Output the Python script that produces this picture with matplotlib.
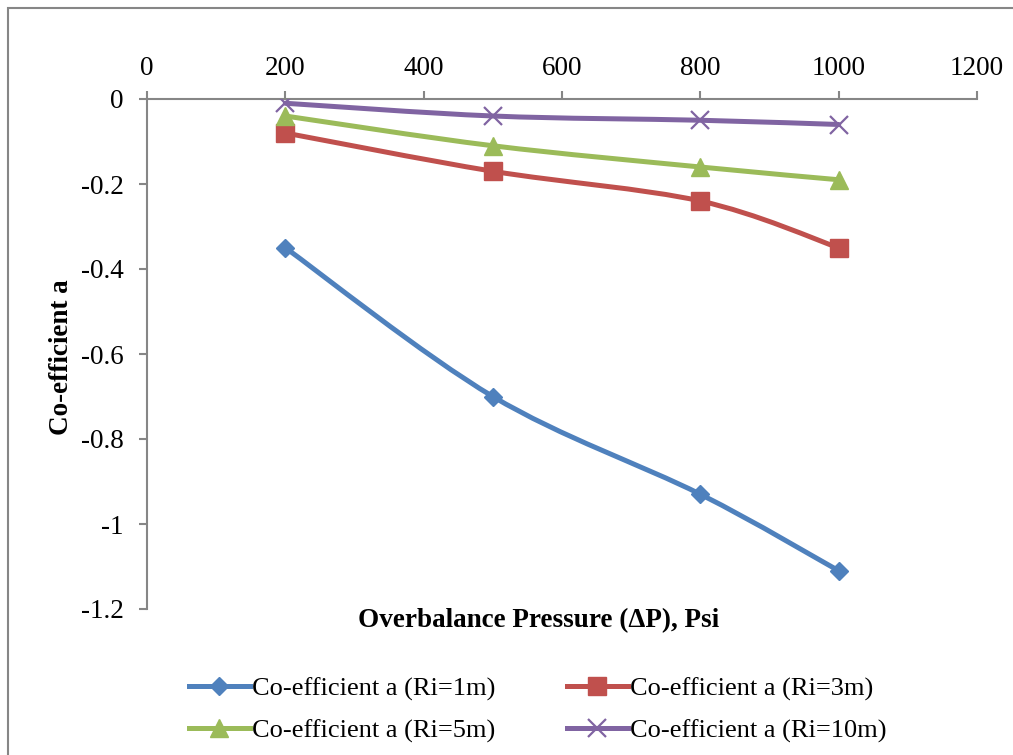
import matplotlib
matplotlib.use("Agg")
import matplotlib.pyplot as plt
import numpy as np
from matplotlib.path import Path
from matplotlib.patches import PathPatch, Rectangle
from matplotlib.lines import Line2D

plt.rcParams['font.family'] = ['Liberation Serif', 'DejaVu Serif']

# overbalance pressure (psi) and coefficient a for each radius
pressure = [200, 500, 800, 1000]
coef_r1 = [-0.35, -0.70, -0.93, -1.11]
coef_r3 = [-0.08, -0.17, -0.24, -0.35]
coef_r5 = [-0.04, -0.11, -0.16, -0.19]
coef_r10 = [-0.01, -0.04, -0.05, -0.06]
labels = ["Co-efficient a (Ri=1m)", "Co-efficient a (Ri=3m)",
          "Co-efficient a (Ri=5m)", "Co-efficient a (Ri=10m)"]
x_ticks = [0, 200, 400, 600, 800, 1000, 1200]
y_ticks = [0, -0.2, -0.4, -0.6, -0.8, -1, -1.2]

colors = ['#4F81BD', '#C0504D', '#9BBB59', '#8064A2']
markers = ['D', 's', '^', 'x']
msizes = [9.5, 13, 13, 13]


def smooth_path(xs, ys):
    # excel-like smoothed line: catmull-rom segments as cubic beziers
    p = np.column_stack([xs, ys]).astype(float)
    n = len(p)
    verts = [p[0]]
    codes = [Path.MOVETO]
    for i in range(n - 1):
        p0 = p[i - 1] if i > 0 else p[i]
        p3 = p[i + 2] if i + 2 < n else p[i + 1]
        c1 = p[i] + (p[i + 1] - p0) / 6.0
        c2 = p[i + 1] - (p3 - p[i]) / 6.0
        verts += [c1, c2, p[i + 1]]
        codes += [Path.CURVE4] * 3
    return Path(verts, codes)


fig = plt.figure(figsize=(10.13, 7.55), dpi=100)
# outer chart frame
fig.patches.append(Rectangle((8 / 1013, -0.1), 1.2, 1 - 8 / 755 + 0.1,
                             transform=fig.transFigure, fill=False,
                             edgecolor='#868686', linewidth=1.5))

ax = fig.add_axes([147 / 1013, 1 - 609 / 755, 830 / 1013, 510 / 755])

series = [coef_r1, coef_r3, coef_r5, coef_r10]
handles = []
for ys, c, m, ms, lab in zip(series, colors, markers, msizes, labels):
    ax.add_patch(PathPatch(smooth_path(pressure, ys), fill=False,
                           edgecolor=c, linewidth=3.6, zorder=2,
                           capstyle='round', joinstyle='round'))
    mew = 1.6 if m == 'x' else 1
    ax.plot(pressure, ys, linestyle='none', marker=m, markersize=ms,
            color=c, markeredgecolor=c, markeredgewidth=mew, zorder=3)
    handles.append(Line2D([], [], color=c, linewidth=3.6, marker=m,
                          markersize=ms, markeredgewidth=mew, label=lab))

ax.set_xlim(0, 1200)
ax.set_ylim(-1.2, 0)
ax.set_xticks(x_ticks)
ax.set_yticks(y_ticks)
ax.set_xticklabels([str(v) for v in x_ticks])
ax.set_yticklabels(['0', '-0.2', '-0.4', '-0.6', '-0.8', '-1', '-1.2'])

ax.xaxis.tick_top()
for s in ['bottom', 'right']:
    ax.spines[s].set_visible(False)
for s in ['top', 'left']:
    ax.spines[s].set_color('#868686')
    ax.spines[s].set_linewidth(1.5)
ax.tick_params(axis='x', direction='out', length=6, width=1.5,
               color='#868686', labelsize=19.5, pad=7)
ax.tick_params(axis='y', direction='out', length=6, width=1.5,
               color='#868686', labelsize=19.5, pad=11)
ax.patch.set_visible(False)

fig.text(539 / 1013, 1 - 621 / 755, "Overbalance Pressure (\u0394P), Psi",
         ha='center', va='center', fontsize=19.5, fontweight='bold')
fig.text(62 / 1013, 1 - 357 / 755, "Co-efficient a", rotation=90,
         ha='center', va='center', fontsize=19.5, fontweight='bold')

# legend fills column by column, so order handles to read row by row
order = [0, 2, 1, 3]
fig.legend(handles=[handles[i] for i in order], loc='center', ncol=2,
           frameon=False, bbox_to_anchor=(538 / 1013, 1 - 710 / 755),
           fontsize=19, handlelength=2.3, handletextpad=0.1,
           columnspacing=2.7, labelspacing=0.7, borderpad=0)

fig.savefig("out.png", dpi=100)
